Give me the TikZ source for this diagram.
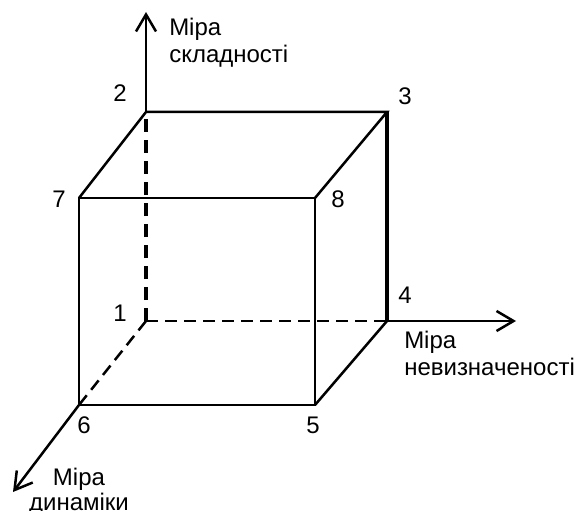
\documentclass[tikz,border=0pt]{standalone}
\usepackage{fontspec}
\setmainfont{Liberation Sans}
\usetikzlibrary{arrows.meta}

\begin{document}
\begin{tikzpicture}[x=1pt,y=-1pt,line width=2.5pt,
        font=\fontsize{24}{27}\selectfont,
        axisarrow/.style={-{Straight Barb[length=17pt,width=20pt]}},
        hidden/.style={dash pattern=on 12pt off 7pt},
        vlabel/.style={inner sep=0pt},
        axislabel/.style={inner sep=0pt,align=left}]
        \useasboundingbox (0,0) rectangle (574,511);
        % Cube corners
        \coordinate (c1) at (146,321);
        \coordinate (c2) at (146,112);
        \coordinate (c3) at (387,112);
        \coordinate (c4) at (387,321);
        \coordinate (c5) at (315,405);
        \coordinate (c6) at (79,405);
        \coordinate (c7) at (79,198);
        \coordinate (c8) at (315,198);
        % Axis ends
        \coordinate (ztip) at (146,12);
        \coordinate (xtip) at (516,321);
        \coordinate (ytip) at (13,492);
        % Hidden edges
        \draw[hidden,line width=3.6pt,dash pattern=on 13pt off 8pt] (c1) -- (c2);
        \draw[hidden] (c1) -- (c4);
        \draw[hidden] (c1) -- (c6);
        % Visible edges
        \draw (c6) rectangle (c8);
        \draw (c7) -- (c2) -- (c3) -- (c8);
        \draw (c5) -- (c4);
        \draw[line width=3.6pt] (c3) -- (c4);
        % Axes
        \draw[axisarrow] (c2) -- (ztip);
        \draw[axisarrow] (c4) -- (xtip);
        \draw[axisarrow] (c6) -- (ytip);
        % Corner numbers
        \node[vlabel] (n1) at (120,313) {1};
        \node[vlabel] (n2) at (120,93) {2};
        \node[vlabel] (n3) at (405,96) {3};
        \node[vlabel] (n4) at (405,295) {4};
        \node[vlabel] (n5) at (313,425) {5};
        \node[vlabel] (n6) at (84,425) {6};
        \node[vlabel] (n7) at (59,199) {7};
        \node[vlabel] (n8) at (338,199) {8};
        % Axis names
        \node[axislabel,anchor=north west] (zname) at (168,17) {Міра\\складності};
        \node[axislabel,anchor=north west] (xname) at (403,330) {Міра\\невизначеності};
        \node[axislabel,align=center,anchor=north,font=\fontsize{24}{25}\selectfont] (yname) at (79,467) {Міра\\динаміки};
    \end{tikzpicture}
\end{document}
